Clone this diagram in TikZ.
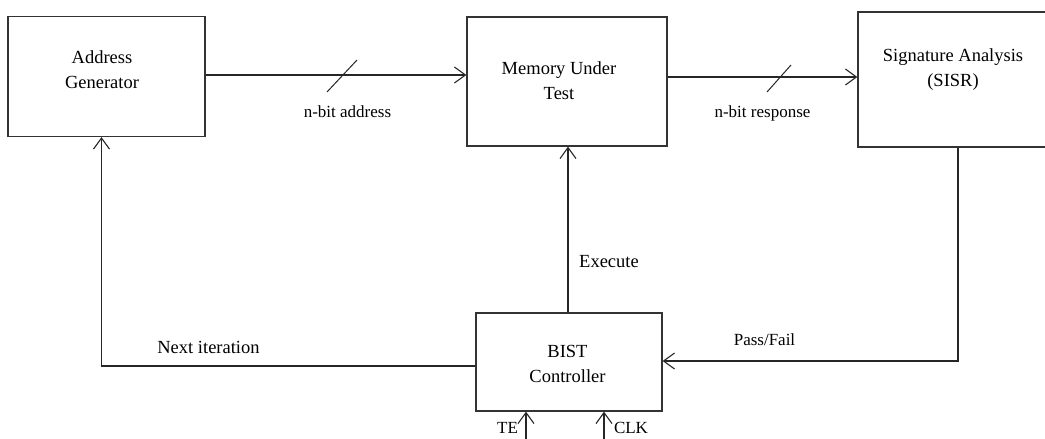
\documentclass[tikz,border=0pt]{standalone}
\usepackage{fontspec}
\setmainfont{Liberation Serif}
\usetikzlibrary{arrows.meta}
\begin{document}
\begin{tikzpicture}[x=1pt,y=-1pt,
  box/.style={draw=black!80, line width=1.3pt, inner sep=0pt},
  wire/.style={draw=black!85, line width=1.2pt},
  arr/.style={wire, -{Straight Barb[length=11pt,width=16pt,line width=1.1pt]}},
  busmark/.style={draw=black!85, line width=1pt},
  boxtext/.style={font=\fontsize{18.5}{25}\selectfont, align=center, inner sep=0pt},
  lbl/.style={font=\fontsize{17}{20}\selectfont, inner sep=0pt},
  biglbl/.style={font=\fontsize{18.5}{22}\selectfont, inner sep=0pt}]
\useasboundingbox (0,0) rectangle (1045,439);
\clip (0,0) rectangle (1045,439);

% blocks
\node[box, minimum width=197pt, minimum height=120pt] (ag)  at (106.5,76.5) {};
\node[box, minimum width=200pt, minimum height=129pt] (mut) at (567,81.5) {};
\node[box, minimum width=200pt, minimum height=135pt] (sig) at (958,79.5) {};
\node[box, minimum width=186pt, minimum height=98pt]  (bist) at (569,362) {};

% block texts
\node[boxtext] (agt)  at (102,69.5)   {Address\\Generator};
\node[boxtext] (mutt) at (559,80.5)   {Memory Under\\Test};
\node[boxtext] (sigt) at (953,70)     {Signature Analysis\\(SISR)};
\node[boxtext] (bistt) at (567.5,363.5) {BIST\\Controller};

% data path
\draw[arr] (ag.east |- 0,75) -- (mut.west |- 0,75);
\draw[busmark] (327,92) -- (357,60);
\node[lbl] (addr) at (347.5,112) {n-bit address};

\draw[arr] (mut.east |- 0,77) -- (sig.west |- 0,77);
\draw[busmark] (767,92) -- (791,65);
\node[lbl] (resp) at (762.5,113) {n-bit response};

% control
\draw[arr] (bist.north -| 568,0) -- (mut.south -| 568,0);
\node[biglbl] (exec) at (609,262) {Execute};

\draw[arr] (bist.west |- 0,366) -| (ag.south -| 101.5,0);
\node[biglbl] (next) at (208.5,347) {Next iteration};

\draw[arr] (sig.south -| 958,0) |- (bist.east |- 0,361);
\node[lbl] (pf) at (764.5,340) {Pass/Fail};

% external inputs
\coordinate (tein) at (526,445);
\coordinate (clkin) at (604,445);
\draw[arr] (tein) -- (bist.south -| tein);
\draw[arr] (clkin) -- (bist.south -| clkin);
\node[lbl] (te) at (507.5,428) {TE};
\node[lbl] (clk) at (631,428) {CLK};
\end{tikzpicture}
\end{document}
